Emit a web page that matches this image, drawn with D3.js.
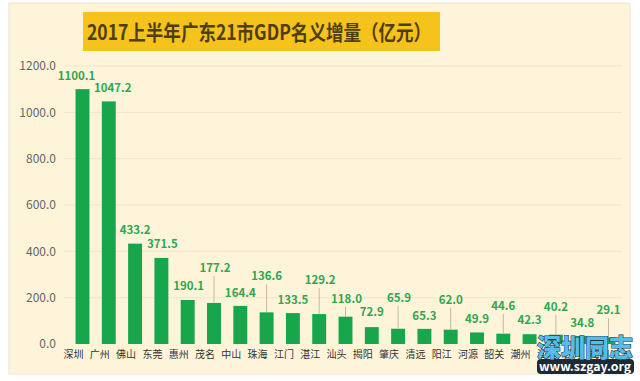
<!DOCTYPE html>
<html><head><meta charset="utf-8">
<script src="https://cdn.jsdelivr.net/npm/d3@7"></script>
<style>
html,body{margin:0;padding:0;background:#fff;}
svg{display:block;}
text{font-family:"Noto Sans CJK SC","Noto Sans",sans-serif;}
</style></head>
<body>
<svg id="chart" width="640" height="381"></svg>
<script>
// ---- data ----
const titleText = "2017上半年广东21市GDP名义增量（亿元）";
const cities = ["深圳","广州","佛山","东莞","惠州","茂名","中山","珠海","江门","湛江","汕头",
                "揭阳","肇庆","清远","阳江","河源","韶关","潮州","汕尾","云浮","梅州"];
const increments = [1100.1,1047.2,433.2,371.5,190.1,177.2,164.4,136.6,133.5,129.2,118.0,
                    72.9,65.9,65.3,62.0,49.9,44.6,42.3,40.2,34.8,29.1];
const yTicks = [0,200,400,600,800,1000,1200];

// ---- layout (label placement, px above bar top; leader line flags) ----
const labelLift = [13,13,14,14,14,35,13,36,13,34,18,15,31,13,30,13,28,14,28,13,27];
const labelDx   = [-6,4,0,1,1,1,0,0,0,1,1,0,1,0,0,0,0,0,0,0,0];
const hasLeader = [0,0,0,0,0,1,0,1,0,1,1,0,1,0,1,0,1,0,1,0,1];

const svg = d3.select("#chart");

// panel
svg.append("rect").attr("x",9).attr("y",3).attr("width",621).attr("height",371)
  .attr("fill","#fef4da").attr("stroke","#ece4cf").attr("stroke-width",1);

// title
svg.append("rect").attr("x",83).attr("y",12).attr("width",357).attr("height",39)
  .attr("fill","#f6c21c");
svg.append("text").attr("x",87).attr("y",39.5)
  .attr("font-size",21).attr("font-weight","bold").attr("fill","#4e3f12")
  .attr("textLength",344).attr("lengthAdjust","spacingAndGlyphs")
  .text(titleText);

// scales
const x = d3.scaleBand().domain(cities).range([69.35, 621.65])
  .paddingInner(0.47).paddingOuter(0.235);
const y = d3.scaleLinear().domain([0,1200]).range([344,66]);

// gridlines
svg.append("g").selectAll("line").data(yTicks.filter(d=>d>0)).join("line")
  .attr("x1",64).attr("x2",622)
  .attr("y1",d=>y(d)).attr("y2",d=>y(d))
  .attr("stroke","#efe5cb").attr("stroke-width",1);

// y axis
const yAxis = d3.axisLeft(y).tickValues(yTicks).tickFormat(d3.format(".1f")).tickSize(0).tickPadding(0);
const gy = svg.append("g").attr("transform","translate(56,0)").call(yAxis);
gy.select(".domain").remove();
gy.selectAll("text").attr("font-size",12).attr("fill","#666")
  .attr("font-family","'Noto Sans','Liberation Sans',sans-serif");

// bars
svg.append("g").selectAll("rect").data(cities).join("rect")
  .attr("x",d=>x(d)).attr("width",x.bandwidth())
  .attr("y",(d,i)=>y(increments[i])).attr("height",(d,i)=>y(0)-y(increments[i]))
  .attr("fill","#17a64b");

// leader lines
svg.append("g").selectAll("line").data(cities.filter((d,i)=>hasLeader[i])).join("line")
  .attr("x1",d=>x(d)+x.bandwidth()/2).attr("x2",d=>x(d)+x.bandwidth()/2)
  .attr("y1",d=>{const i=cities.indexOf(d);return y(increments[i]);})
  .attr("y2",d=>{const i=cities.indexOf(d);return y(increments[i])-labelLift[i]+8;})
  .attr("stroke","#c8b99d").attr("stroke-width",1);

// value labels
svg.append("g").selectAll("text").data(cities).join("text")
  .attr("x",(d,i)=>x(d)+x.bandwidth()/2+labelDx[i])
  .attr("y",(d,i)=>y(increments[i])-labelLift[i])
  .attr("dy","0.35em").attr("text-anchor","middle")
  .attr("font-size",11.5).attr("font-weight","bold").attr("fill","#2fa650")
  .attr("font-family","'Noto Sans','Liberation Sans',sans-serif")
  .text((d,i)=>d3.format(".1f")(increments[i]));

// x axis
const xAxis = d3.axisBottom(x).tickSize(0).tickPadding(0);
const gx = svg.append("g").attr("transform","translate(-9,349)").call(xAxis);
gx.select(".domain").remove();
gx.selectAll("text").attr("font-size",10).attr("fill","#333").attr("dy","0.9em");

// watermark
const wm = svg.append("g");
wm.append("rect").attr("x",537).attr("y",359).attr("width",97).attr("height",15).attr("rx",4)
  .attr("fill","#1d2a35");
wm.append("text").attr("x",585).attr("y",371).attr("text-anchor","middle")
  .attr("font-size",12).attr("font-weight","bold").attr("fill","#ffffff")
  .attr("font-family","'DejaVu Sans',sans-serif")
  .attr("textLength",92).attr("lengthAdjust","spacingAndGlyphs")
  .text("www.szgay.org");
wm.append("text").attr("x",585).attr("y",357).attr("text-anchor","middle")
  .attr("font-size",25).attr("font-weight","900").attr("fill","#56bde8")
  .attr("stroke","#1b3550").attr("stroke-width",1.2).attr("paint-order","stroke")
  .attr("textLength",96).attr("lengthAdjust","spacingAndGlyphs")
  .text("深圳同志");
</script>
</body></html>
